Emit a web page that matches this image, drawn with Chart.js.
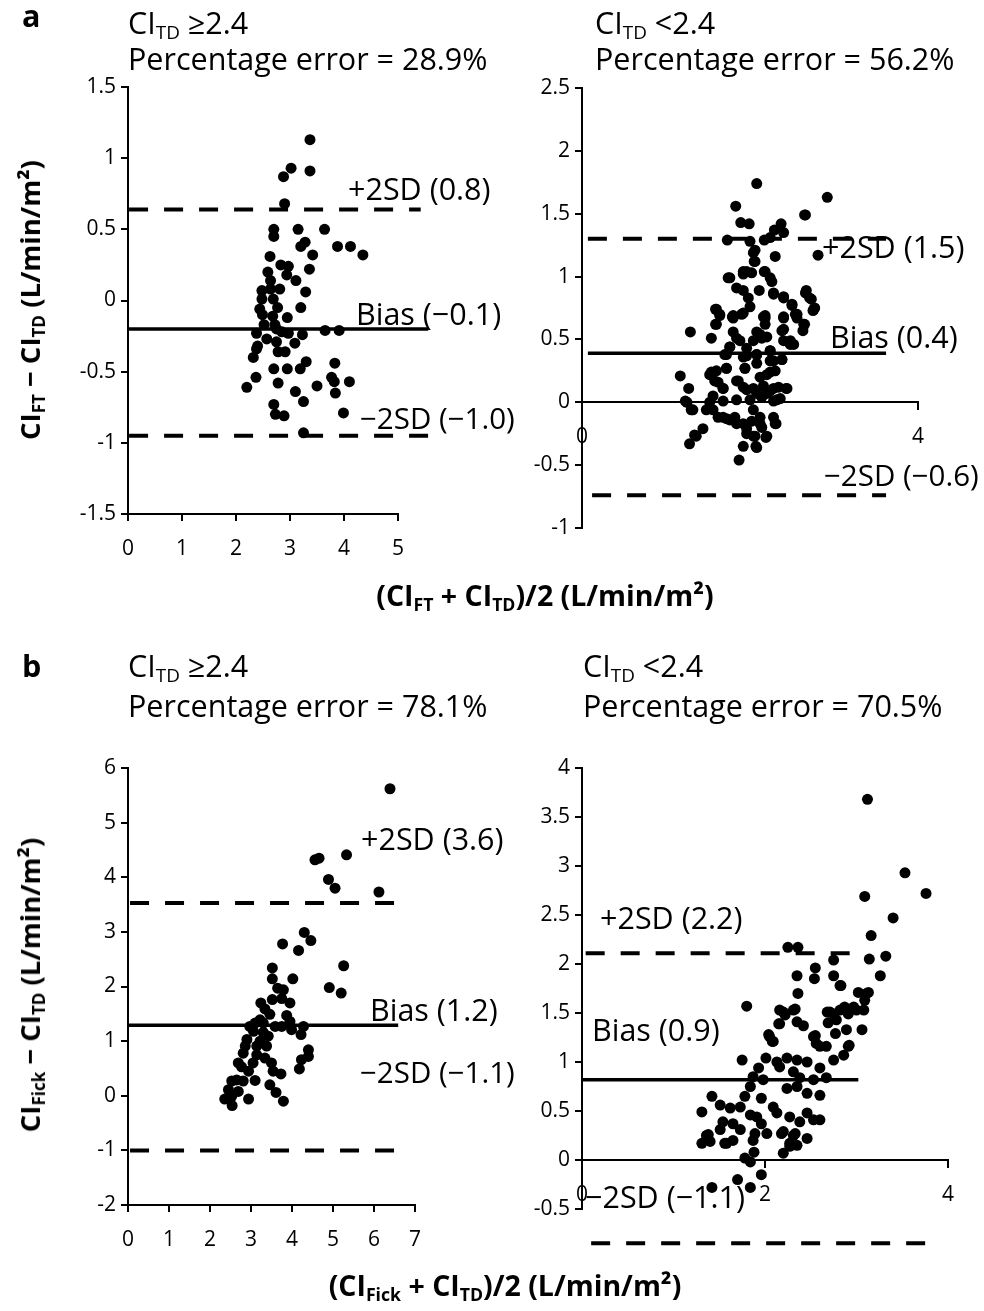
<!DOCTYPE html>
<html>
<head>
<meta charset="utf-8">
<script src="https://cdn.jsdelivr.net/npm/chart.js@4"></script>
<style>
  body { margin: 0; background: #fff; }
  #page { position: relative; width: 984px; height: 1311px; overflow: hidden; }
  canvas { position: absolute; left: 0; top: 0; }
  .t { position: absolute; font-family: 'Open Sans', sans-serif; font-size: 30.5px; line-height: 36px; white-space: nowrap; color: #000; transform: translateY(-50%); }
  .s { font-size: 29.5px; }
  .b { font-weight: bold; }
  .c { transform: translate(-50%, -50%); font-size: 28.5px; }
  .r { transform: translate(-50%, -50%) rotate(-90deg); font-size: 27.5px; }
  sub { font-size: 0.62em; vertical-align: -0.28em; line-height: 0; }
</style>
</head>
<body>
<div id="page">
  <canvas id="aLeft" width="984" height="1311"></canvas>
  <canvas id="aRight" width="984" height="1311"></canvas>
  <canvas id="bLeft" width="984" height="1311"></canvas>
  <canvas id="bRight" width="984" height="1311"></canvas>
</div>
<script>
// Panel a, CI_TD >= 2.4: [mean, difference]
const aLeftPts = [[3.37,1.13],[3.02,0.93],[2.88,0.87],[3.37,0.91],[2.90,0.68],[2.70,0.50],[2.70,0.45],[3.15,0.50],[3.64,0.50],[3.28,0.41],[3.20,0.38],[3.88,0.38],[4.12,0.38],[4.35,0.32],[2.63,0.31],[3.42,0.32],[2.83,0.25],[2.97,0.24],[3.36,0.22],[2.59,0.20],[2.94,0.18],[2.64,0.14],[3.11,0.14],[2.48,0.07],[2.81,0.08],[3.29,0.06],[2.64,0.08],[2.48,0.01],[2.69,0.01],[2.44,-0.06],[2.77,-0.05],[3.20,-0.05],[2.49,-0.10],[2.68,-0.11],[2.95,-0.12],[2.52,-0.17],[2.72,-0.17],[2.38,-0.23],[2.57,-0.27],[2.75,-0.20],[2.85,-0.22],[2.97,-0.23],[3.23,-0.24],[3.65,-0.21],[3.91,-0.21],[2.75,-0.29],[3.09,-0.30],[2.40,-0.32],[2.38,-0.34],[2.78,-0.36],[2.91,-0.36],[2.32,-0.40],[3.30,-0.43],[2.70,-0.48],[2.95,-0.48],[3.19,-0.48],[3.83,-0.44],[2.37,-0.54],[3.77,-0.54],[3.82,-0.57],[2.20,-0.61],[2.78,-0.58],[3.50,-0.60],[4.10,-0.57],[3.10,-0.64],[3.84,-0.65],[3.25,-0.71],[2.70,-0.73],[2.73,-0.80],[2.89,-0.81],[3.99,-0.79],[3.25,-0.93]];

// Panel a, CI_TD < 2.4
const aRightPts = [[2.08,1.74],[2.92,1.63],[1.83,1.56],[2.65,1.49],[1.89,1.43],[1.99,1.42],[2.37,1.42],[2.29,1.37],[2.40,1.35],[1.73,1.29],[2.00,1.28],[2.17,1.29],[2.24,1.31],[2.06,1.21],[2.81,1.17],[2.30,1.16],[2.05,1.12],[1.92,1.04],[1.76,0.99],[2.02,1.03],[2.17,1.04],[2.24,0.99],[1.84,0.91],[1.92,0.89],[2.11,0.89],[2.28,0.87],[1.98,0.83],[2.40,0.84],[2.67,0.89],[2.71,0.83],[2.76,0.74],[1.59,0.74],[1.64,0.70],[2.00,0.76],[1.79,0.68],[1.92,0.71],[2.16,0.68],[2.40,0.68],[2.50,0.77],[2.55,0.70],[1.59,0.62],[2.18,0.62],[2.65,0.62],[1.29,0.56],[1.54,0.51],[1.80,0.56],[2.08,0.56],[2.63,0.57],[2.14,0.51],[2.38,0.57],[2.40,0.49],[2.48,0.46],[1.88,0.49],[1.76,0.44],[1.96,0.43],[2.24,0.41],[1.72,0.38],[1.92,0.36],[2.08,0.38],[2.38,0.34],[2.08,0.31],[2.24,0.33],[1.94,0.27],[1.17,0.21],[1.52,0.22],[1.60,0.25],[1.72,0.27],[2.30,0.25],[2.20,0.22],[1.27,0.11],[1.58,0.17],[1.68,0.11],[1.84,0.17],[1.92,0.12],[2.04,0.11],[2.16,0.13],[2.24,0.09],[2.34,0.12],[2.44,0.11],[1.56,0.05],[1.52,0.00],[1.68,0.01],[1.84,0.02],[2.00,0.02],[2.14,0.04],[2.28,0.01],[2.36,0.03],[1.25,0.00],[1.32,-0.06],[1.48,-0.06],[1.62,-0.12],[1.72,-0.13],[1.82,-0.12],[1.92,-0.17],[2.02,-0.15],[2.12,-0.12],[2.14,-0.20],[2.28,-0.12],[2.31,-0.17],[1.96,-0.25],[2.06,-0.27],[2.20,-0.27],[1.44,-0.21],[1.36,-0.27],[1.28,-0.33],[1.92,-0.35],[2.08,-0.36],[1.87,-0.46],[1.74,0.99],[1.96,1.04],[2.04,1.19],[2.06,1.12],[1.92,1.02],[2.18,1.04],[2.26,0.96],[2.28,0.86],[2.40,0.83],[2.50,0.78],[2.56,0.70],[2.66,0.87],[2.73,0.82],[2.77,0.75],[1.60,0.74],[1.80,0.69],[1.90,0.70],[2.18,0.69],[2.54,0.70],[2.66,1.49],[1.23,0.01],[1.30,-0.06],[1.34,-0.26],[2.07,-0.35],[2.19,-0.28],[2.04,-0.27],[1.96,-0.21],[1.68,-0.12],[1.76,-0.14],[1.84,-0.17],[2.12,-0.17],[2.30,-0.17],[1.56,-0.06],[2.04,-0.06],[2.32,0.02],[2.43,0.11],[2.28,0.11],[2.20,0.07],[2.08,0.07],[1.96,0.10],[1.86,0.17],[1.68,0.11],[1.54,0.24],[1.72,0.27],[1.62,0.16],[1.94,0.27],[2.12,0.20],[2.24,0.24],[2.28,0.33],[2.38,0.34],[2.24,0.41],[2.08,0.38],[1.96,0.37],[1.76,0.44],[1.70,0.38],[1.84,0.51],[2.04,0.49],[2.12,0.54],[2.20,0.52],[2.40,0.58],[2.48,0.49],[2.52,0.46],[2.64,0.62],[2.56,0.67],[2.40,0.67],[2.18,0.67],[1.80,0.67],[1.60,0.62],[1.64,0.69],[2.75,0.73]];

// Panel b, CI_TD >= 2.4
const bLeftPts = [[6.39,5.62],[4.56,4.32],[4.66,4.35],[5.33,4.41],[4.89,3.96],[5.05,3.80],[6.12,3.73],[4.30,2.99],[4.46,2.84],[3.77,2.78],[4.16,2.66],[5.26,2.38],[3.52,2.34],[3.52,2.14],[4.02,2.14],[4.91,1.98],[5.20,1.88],[3.65,1.97],[3.79,1.94],[3.52,1.76],[3.75,1.78],[3.95,1.70],[3.24,1.70],[3.34,1.59],[3.46,1.49],[3.87,1.47],[3.95,1.36],[3.22,1.39],[3.10,1.33],[3.30,1.33],[3.59,1.27],[3.75,1.27],[3.99,1.21],[4.28,1.27],[4.22,1.12],[2.97,1.27],[3.06,1.18],[3.30,1.16],[3.42,1.09],[2.90,1.03],[3.22,1.00],[2.86,0.91],[3.14,0.91],[3.38,0.91],[4.40,0.84],[4.40,0.72],[4.23,0.66],[2.81,0.78],[3.14,0.75],[3.34,0.69],[2.69,0.60],[2.77,0.53],[3.05,0.60],[3.50,0.60],[2.94,0.45],[3.54,0.45],[3.73,0.40],[4.18,0.49],[2.65,0.29],[2.53,0.27],[2.81,0.27],[3.10,0.28],[3.46,0.20],[2.45,0.11],[2.69,0.08],[3.61,0.06],[2.36,-0.06],[2.53,-0.01],[2.94,-0.06],[3.79,-0.10],[2.54,-0.18]];

// Panel b, CI_TD < 2.4
const bRightPts = [[3.12,3.68],[3.53,2.93],[3.76,2.72],[3.09,2.69],[3.40,2.47],[3.16,2.29],[2.25,2.17],[2.36,2.17],[3.14,2.05],[3.32,2.08],[2.75,2.04],[2.55,1.96],[2.35,1.88],[2.54,1.85],[2.75,1.88],[3.26,1.88],[2.83,1.78],[2.36,1.70],[1.80,1.57],[3.02,1.71],[3.13,1.71],[2.16,1.53],[2.33,1.54],[2.22,1.48],[2.16,1.39],[2.35,1.41],[2.42,1.37],[2.68,1.51],[2.75,1.49],[2.69,1.40],[2.78,1.43],[2.87,1.56],[2.91,1.49],[3.00,1.53],[3.08,1.53],[3.09,1.63],[2.89,1.33],[2.77,1.29],[3.06,1.33],[2.04,1.28],[2.08,1.21],[2.55,1.27],[2.56,1.19],[2.67,1.16],[2.92,1.17],[2.82,1.78],[2.20,1.51],[2.31,1.53],[2.15,1.39],[2.53,1.26],[2.71,1.51],[2.82,1.53],[2.97,1.56],[3.11,1.70],[2.05,1.26],[2.09,1.21],[2.60,1.16],[2.75,1.02],[2.86,1.07],[2.91,1.16],[1.75,1.02],[2.01,1.04],[2.13,1.00],[2.24,1.04],[2.35,1.02],[2.46,1.00],[1.93,0.94],[2.16,0.95],[2.31,0.90],[2.60,0.94],[2.67,0.84],[2.38,0.84],[2.53,0.82],[1.87,0.85],[1.84,0.75],[1.98,0.82],[2.24,0.73],[2.35,0.75],[2.46,0.68],[2.60,0.66],[1.42,0.65],[1.78,0.65],[1.96,0.63],[1.51,0.56],[1.62,0.53],[1.31,0.49],[1.73,0.54],[2.09,0.54],[2.13,0.48],[1.84,0.46],[1.91,0.44],[1.54,0.39],[1.65,0.37],[2.27,0.44],[2.46,0.48],[2.53,0.41],[2.60,0.41],[2.38,0.39],[1.96,0.37],[1.51,0.31],[1.73,0.31],[1.89,0.27],[2.02,0.27],[2.20,0.29],[2.33,0.27],[2.46,0.22],[1.36,0.25],[1.31,0.17],[1.40,0.19],[1.58,0.17],[1.65,0.20],[1.87,0.20],[2.27,0.17],[2.35,0.15],[2.20,0.07],[1.88,0.08],[1.78,0.02],[1.84,-0.02],[1.96,-0.15],[1.70,-0.20],[1.84,-0.28],[1.42,-0.28],[1.38,0.26],[1.56,0.17],[2.18,0.27],[2.31,0.25],[2.27,0.14]];

// Bias and limits of agreement: [y, xStart, xEnd]
const aLeftLines = { bias: [-0.2, 0, 5.56], upper: [0.64, 0.02, 5.42], lower: [-0.95, 0.02, 5.56] };
const aRightLines = { bias: [0.39, 0.07, 3.62], upper: [1.30, 0.07, 3.62], lower: [-0.74, 0.12, 3.62] };
const bLeftLines = { bias: [1.29, 0, 6.59], upper: [3.53, 0.05, 6.76], lower: [-1.0, 0.05, 6.76] };
const bRightLines = { bias: [0.82, 0, 3.02], upper: [2.11, 0.04, 2.98], lower: [-0.85, 0.1, 3.86] };

Chart.defaults.font.family = "'Open Sans', sans-serif";
Chart.defaults.color = "#000";

const PAGE_W = 984, PAGE_H = 1311;
const Y_W = 60, X_H = 50;

function lineSet(spec, dashed) {
  return {
    type: "line",
    data: [{ x: spec[1], y: spec[0] }, { x: spec[2], y: spec[0] }],
    borderColor: "#000",
    borderWidth: dashed ? 4 : 3.5,
    borderDash: dashed ? [19, 16] : [],
    pointRadius: 0,
    clip: false,
    fill: false,
  };
}

function axisStyle() {
  return {
    grid: { drawOnChartArea: false, drawTicks: true, tickLength: 7, color: "#000", lineWidth: 2 },
    border: { display: true, color: "#000", width: 2 },
  };
}

// plain tick text: 1 not 1.0
const tickText = (v) => String(Math.round(v * 100) / 100);

// area = chart area in page pixels
function makePlot(id, area, xr, yr, pts, lines, cross) {
  const canvas = document.getElementById(id);
  new Chart(canvas, {
    type: "scatter",
    data: {
      datasets: [
        {
          data: pts.map((p) => ({ x: p[0], y: p[1] })),
          backgroundColor: "#000",
          borderWidth: 0,
          pointRadius: 5.5,
        },
        lineSet(lines.bias, false),
        lineSet(lines.upper, true),
        lineSet(lines.lower, true),
      ],
    },
    options: {
      responsive: false,
      animation: false,
      events: [],
      layout: {
        padding: {
          left: area.l - Y_W,
          top: area.t,
          right: PAGE_W - area.r,
          bottom: cross ? PAGE_H - area.b : PAGE_H - area.b - X_H,
        },
      },
      plugins: { legend: { display: false }, tooltip: { enabled: false } },
      scales: {
        x: {
          type: "linear",
          min: xr[0],
          max: xr[1],
          position: cross ? { y: 0 } : "bottom",
          afterFit: (s) => { if (!cross) s.height = X_H; },
          ticks: { stepSize: xr[2], font: { size: 21 }, padding: 15, maxRotation: 0, callback: tickText },
          ...axisStyle(),
        },
        y: {
          type: "linear",
          min: yr[0],
          max: yr[1],
          afterFit: (s) => { s.width = Y_W; },
          ticks: { stepSize: yr[2], font: { size: 21 }, padding: 5, callback: tickText },
          ...axisStyle(),
        },
      },
    },
  });
}

makePlot("aLeft", { l: 128, r: 398, t: 87, b: 514 }, [0, 5, 1], [-1.5, 1.5, 0.5], aLeftPts, aLeftLines, false);
makePlot("aRight", { l: 582, r: 918, t: 88, b: 528 }, [0, 4, 4], [-1, 2.5, 0.5], aRightPts, aRightLines, true);
makePlot("bLeft", { l: 128, r: 415, t: 768, b: 1205 }, [0, 7, 1], [-2, 6, 1], bLeftPts, bLeftLines, false);
makePlot("bRight", { l: 582, r: 948, t: 768, b: 1209 }, [0, 4, 2], [-0.5, 4, 0.5], bRightPts, bRightLines, true);

// Text: [html, x, centerY, className]
const texts = [
  ["a", 22, 15, "t b"],
  ["CI<sub>TD</sub> ≥2.4", 128, 22, "t"],
  ["Percentage error = 28.9%", 128, 58, "t"],
  ["CI<sub>TD</sub> &lt;2.4", 595, 22, "t"],
  ["Percentage error = 56.2%", 595, 58, "t"],
  ["+2SD (0.8)", 348, 188, "t"],
  ["Bias (−0.1)", 356, 313, "t"],
  ["−2SD (−1.0)", 360, 418, "t s"],
  ["+2SD (1.5)", 822, 246, "t"],
  ["Bias (0.4)", 830, 336, "t"],
  ["−2SD (−0.6)", 824, 475, "t s"],
  ["b", 22, 665, "t b"],
  ["CI<sub>TD</sub> ≥2.4", 128, 665, "t"],
  ["Percentage error = 78.1%", 128, 705, "t"],
  ["CI<sub>TD</sub> &lt;2.4", 583, 665, "t"],
  ["Percentage error = 70.5%", 583, 705, "t"],
  ["+2SD (3.6)", 361, 838, "t"],
  ["Bias (1.2)", 370, 1009, "t"],
  ["−2SD (−1.1)", 360, 1072, "t s"],
  ["+2SD (2.2)", 600, 917, "t"],
  ["Bias (0.9)", 592, 1029, "t"],
  ["−2SD (−1.1)", 585, 1196, "t"],
  ["(CI<sub>FT</sub> + CI<sub>TD</sub>)/2 (L/min/m²)", 545, 595, "t b c"],
  ["(CI<sub>Fick</sub> + CI<sub>TD</sub>)/2 (L/min/m²)", 505, 1285, "t b c"],
  ["CI<sub>FT</sub> − CI<sub>TD</sub> (L/min/m²)", 30, 300, "t b r"],
  ["CI<sub>Fick</sub> − CI<sub>TD</sub> (L/min/m²)", 30, 985, "t b r"],
];

const page = document.getElementById("page");
texts.forEach(([html, x, y, cls]) => {
  const d = document.createElement("div");
  d.className = cls;
  d.innerHTML = html;
  d.style.left = x + "px";
  d.style.top = y + "px";
  page.appendChild(d);
});
</script>
</body>
</html>
